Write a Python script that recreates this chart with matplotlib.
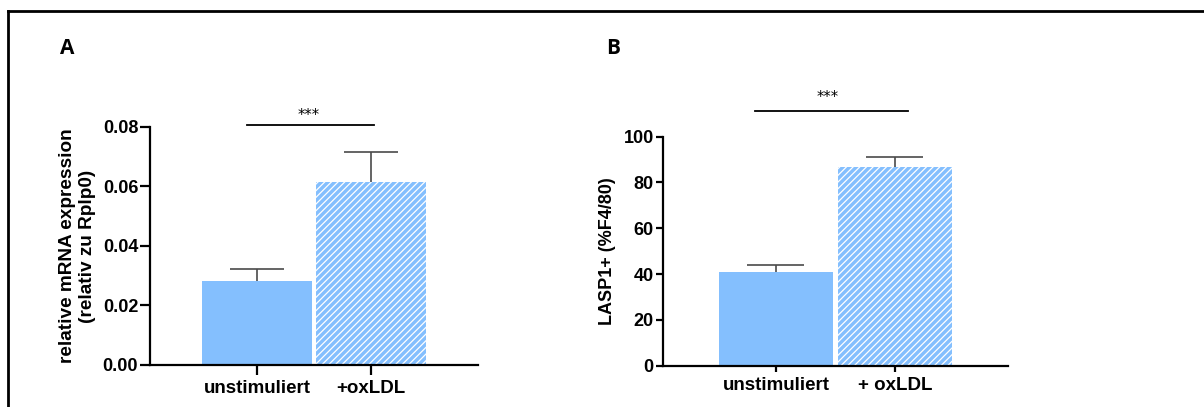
import matplotlib
matplotlib.use("Agg")
import matplotlib.pyplot as plt
from matplotlib.lines import Line2D

plt.rcParams["font.family"] = ["Liberation Sans", "DejaVu Sans"]
plt.rcParams["hatch.linewidth"] = 0.9

# data
groups_a = ["unstimuliert", "+oxLDL"]
mrna_mean = [0.0282, 0.0614]
mrna_sem = [0.0040, 0.0101]
yticks_a = [0.00, 0.02, 0.04, 0.06, 0.08]

groups_b = ["unstimuliert", "+ oxLDL"]
lasp_mean = [40.8, 86.6]
lasp_sem = [3.0, 4.4]
yticks_b = [0, 20, 40, 60, 80, 100]

BLUE = "#84bffe"
ERR = "#4a4a4a"

fig = plt.figure(figsize=(12.04, 4.07), dpi=100)

# outer frame (top and left edges only visible)
fig.add_artist(Line2D([0.0064, 1.0], [0.973, 0.973], color="black", lw=2.0))
fig.add_artist(Line2D([0.0064, 0.0064], [0.0, 0.973], color="black", lw=2.0))


def draw_panel(ax, labels, means, errs, yticks, ylim, xlim, tlen_y, tlen_x, fmt):
    x = list(range(len(labels)))
    ax.bar(x[0], means[0], width=0.96, color=BLUE, linewidth=0)
    ax.bar(x[1], means[1], width=0.96, color=BLUE, edgecolor="white",
           hatch="/////", linewidth=0)
    tops = [m + e for m, e in zip(means, errs)]
    ax.vlines(x, means, tops, color=ERR, lw=1.2, zorder=3)
    ax.hlines(tops, [xi - 0.24 for xi in x], [xi + 0.24 for xi in x],
              color=ERR, lw=1.2, zorder=3)
    ax.set_xlim(*xlim)
    ax.set_ylim(*ylim)
    ax.set_yticks(yticks)
    ax.set_yticklabels([fmt.format(v) for v in yticks])
    ax.set_xticks(x)
    ax.set_xticklabels(labels)
    for s in ["top", "right"]:
        ax.spines[s].set_visible(False)
    for s in ["left", "bottom"]:
        ax.spines[s].set_linewidth(1.6)
    ax.tick_params(axis="y", length=tlen_y, width=1.6, pad=1.5, labelsize=13)
    ax.tick_params(axis="x", length=tlen_x, width=1.6, pad=4, labelsize=13.5)
    for lab in ax.get_xticklabels() + ax.get_yticklabels():
        lab.set_fontweight("bold")


# panel A
axA = fig.add_axes([0.1246, 0.1032, 0.2724, 0.5848])
draw_panel(axA, groups_a, mrna_mean, mrna_sem, yticks_a, (0, 0.08),
           (-0.94, 1.94), 7, 7, "{:.2f}")
axA.text(-0.222, 0.5, "relative mRNA expression\n(relativ zu Rplp0)",
         transform=axA.transAxes, rotation=90, ha="center", va="center",
         fontsize=13.7, fontweight="bold", multialignment="center",
         linespacing=1.25)
axA.plot([-0.09, 1.03], [0.0807, 0.0807], color="black", lw=1.3, clip_on=False)
axA.text(0.456, 0.0838, "***", ha="center", va="center", fontsize=10.5,
         family="DejaVu Sans")
fig.text(67 / 1204, 1 - 49 / 407, "A", fontsize=15, fontweight="bold",
         family="Open Sans", ha="center", va="center")

# panel B
axB = fig.add_axes([0.5505, 0.1015, 0.2867, 0.5627])
draw_panel(axB, groups_b, lasp_mean, lasp_sem, yticks_b, (0, 100),
           (-0.95, 1.95), 5, 4, "{:d}")
axB.text(-0.16, 0.5, "LASP1+ (%F4/80)", transform=axB.transAxes,
         rotation=90, ha="center", va="center", fontsize=13,
         fontweight="bold")
axB.plot([-0.176, 1.109], [111.4, 111.4], color="black", lw=1.3, clip_on=False)
axB.text(0.436, 117.3, "***", ha="center", va="center", fontsize=10.5,
         family="DejaVu Sans")
fig.text(613.5 / 1204, 1 - 49 / 407, "B", fontsize=15, fontweight="bold",
         family="Open Sans", ha="center", va="center")

fig.savefig("out.png", dpi=100)
plt.close(fig)
